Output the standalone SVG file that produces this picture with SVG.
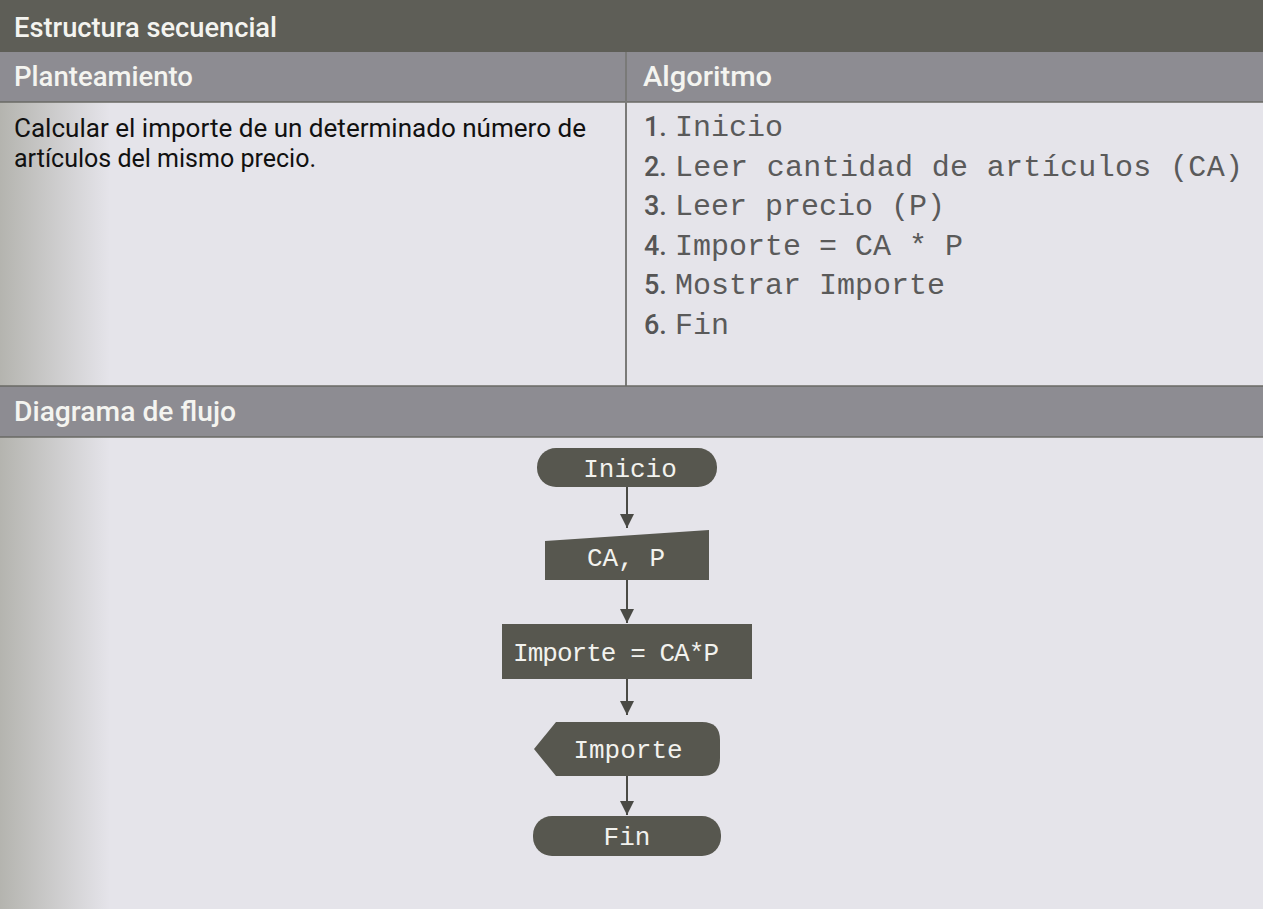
<svg xmlns="http://www.w3.org/2000/svg" width="1263" height="909" viewBox="0 0 1263 909">
<defs>
<style>
.hdr{font-family:Roboto,"Open Sans","Liberation Sans",sans-serif;font-weight:500;fill:#f4f4f0;font-size:27px;}
.body{font-family:Roboto,"Open Sans","Liberation Sans",sans-serif;fill:#111;font-size:26px;}
.num{font-family:Roboto,"Open Sans","Liberation Sans",sans-serif;font-weight:500;fill:#555;font-size:27px;}
.mono{font-family:"Liberation Mono","Courier New",monospace;fill:#5a5a5a;font-size:30px;}
.nodeTxt{font-family:"Liberation Mono","Courier New",monospace;fill:#f2f2ee;font-size:26px;text-anchor:middle;}
.shape{fill:#57574f;}
.conn{stroke:#4a4a45;stroke-width:2;fill:none;}
</style>
<marker id="arr" viewBox="0 0 10 10" refX="10" refY="5" markerWidth="14" markerHeight="14" markerUnits="userSpaceOnUse" orient="auto">
<path d="M0,0 L10,5 L0,10 z" fill="#4a4a45"/>
</marker>
<linearGradient id="shade" x1="0" y1="0" x2="1" y2="0">
<stop offset="0" stop-color="#a8a8a0" stop-opacity="0.8"/>
<stop offset="1" stop-color="#a8a8a0" stop-opacity="0"/>
</linearGradient>
</defs>
<rect x="0" y="0" width="1263" height="909" fill="#e5e4ea"/>
<rect x="0" y="100" width="110" height="809" fill="url(#shade)"/>
<!-- header bars -->
<rect x="0" y="0" width="1263" height="52" fill="#5e5e57"/>
<rect x="0" y="52" width="1263" height="50" fill="#8d8c92"/>
<line x1="0" y1="102" x2="1263" y2="102" stroke="#6a6a64" stroke-width="1.5"/>
<line x1="626" y1="52" x2="626" y2="386" stroke="#7a7a78" stroke-width="2"/>
<rect x="0" y="386" width="1263" height="51" fill="#8d8c92"/>
<line x1="0" y1="386" x2="1263" y2="386" stroke="#6a6a64" stroke-width="1.5"/>
<line x1="0" y1="437" x2="1263" y2="437" stroke="#6a6a64" stroke-width="1.5"/>
<text class="hdr" x="14" y="37" textLength="263" lengthAdjust="spacingAndGlyphs">Estructura secuencial</text>
<text class="hdr" x="14" y="86" textLength="179" lengthAdjust="spacingAndGlyphs">Planteamiento</text>
<text class="hdr" x="643" y="86" textLength="129" lengthAdjust="spacingAndGlyphs">Algoritmo</text>
<text class="hdr" x="14" y="421" textLength="222" lengthAdjust="spacingAndGlyphs">Diagrama de flujo</text>
<text class="body" x="14" y="137" textLength="572" lengthAdjust="spacingAndGlyphs">Calcular el importe de un determinado número de</text>
<text class="body" x="14" y="167" textLength="302" lengthAdjust="spacingAndGlyphs">artículos del mismo precio.</text>
<g id="algoritmo">
<text class="num" x="644" y="136">1.</text><text class="mono" x="675" y="136">Inicio</text>
<text class="num" x="644" y="176">2.</text><text class="mono" x="675" y="176" textLength="568" lengthAdjust="spacing">Leer cantidad de artículos (CA)</text>
<text class="num" x="644" y="215">3.</text><text class="mono" x="675" y="215">Leer precio (P)</text>
<text class="num" x="644" y="255">4.</text><text class="mono" x="675" y="255">Importe = CA * P</text>
<text class="num" x="644" y="294">5.</text><text class="mono" x="675" y="294">Mostrar Importe</text>
<text class="num" x="644" y="334">6.</text><text class="mono" x="675" y="334">Fin</text>
</g>
<g id="connectors">
<line class="conn" x1="627" y1="487" x2="627" y2="528" marker-end="url(#arr)"/>
<line class="conn" x1="627" y1="580" x2="627" y2="623" marker-end="url(#arr)"/>
<line class="conn" x1="627" y1="679" x2="627" y2="715" marker-end="url(#arr)"/>
<line class="conn" x1="627" y1="776" x2="627" y2="815" marker-end="url(#arr)"/>
</g>
<g id="inicio">
<rect class="shape" x="537" y="448" width="180" height="39" rx="19"/>
<text class="nodeTxt" x="630" y="477">Inicio</text>
</g>
<g id="entrada">
<polygon class="shape" points="545,541 709,530 709,580 545,580"/>
<text class="nodeTxt" x="626" y="566">CA, P</text>
</g>
<g id="proceso">
<rect class="shape" x="502" y="624" width="250" height="55"/>
<text class="nodeTxt" x="616" y="661" textLength="206" lengthAdjust="spacing">Importe = CA*P</text>
</g>
<g id="salida">
<path class="shape" d="M534,749 L556,722 L702,722 Q720,722 720,740 L720,758 Q720,776 702,776 L556,776 Z"/>
<text class="nodeTxt" x="628" y="758">Importe</text>
</g>
<g id="fin">
<rect class="shape" x="533" y="816" width="188" height="40" rx="19"/>
<text class="nodeTxt" x="627" y="845">Fin</text>
</g>
</svg>
